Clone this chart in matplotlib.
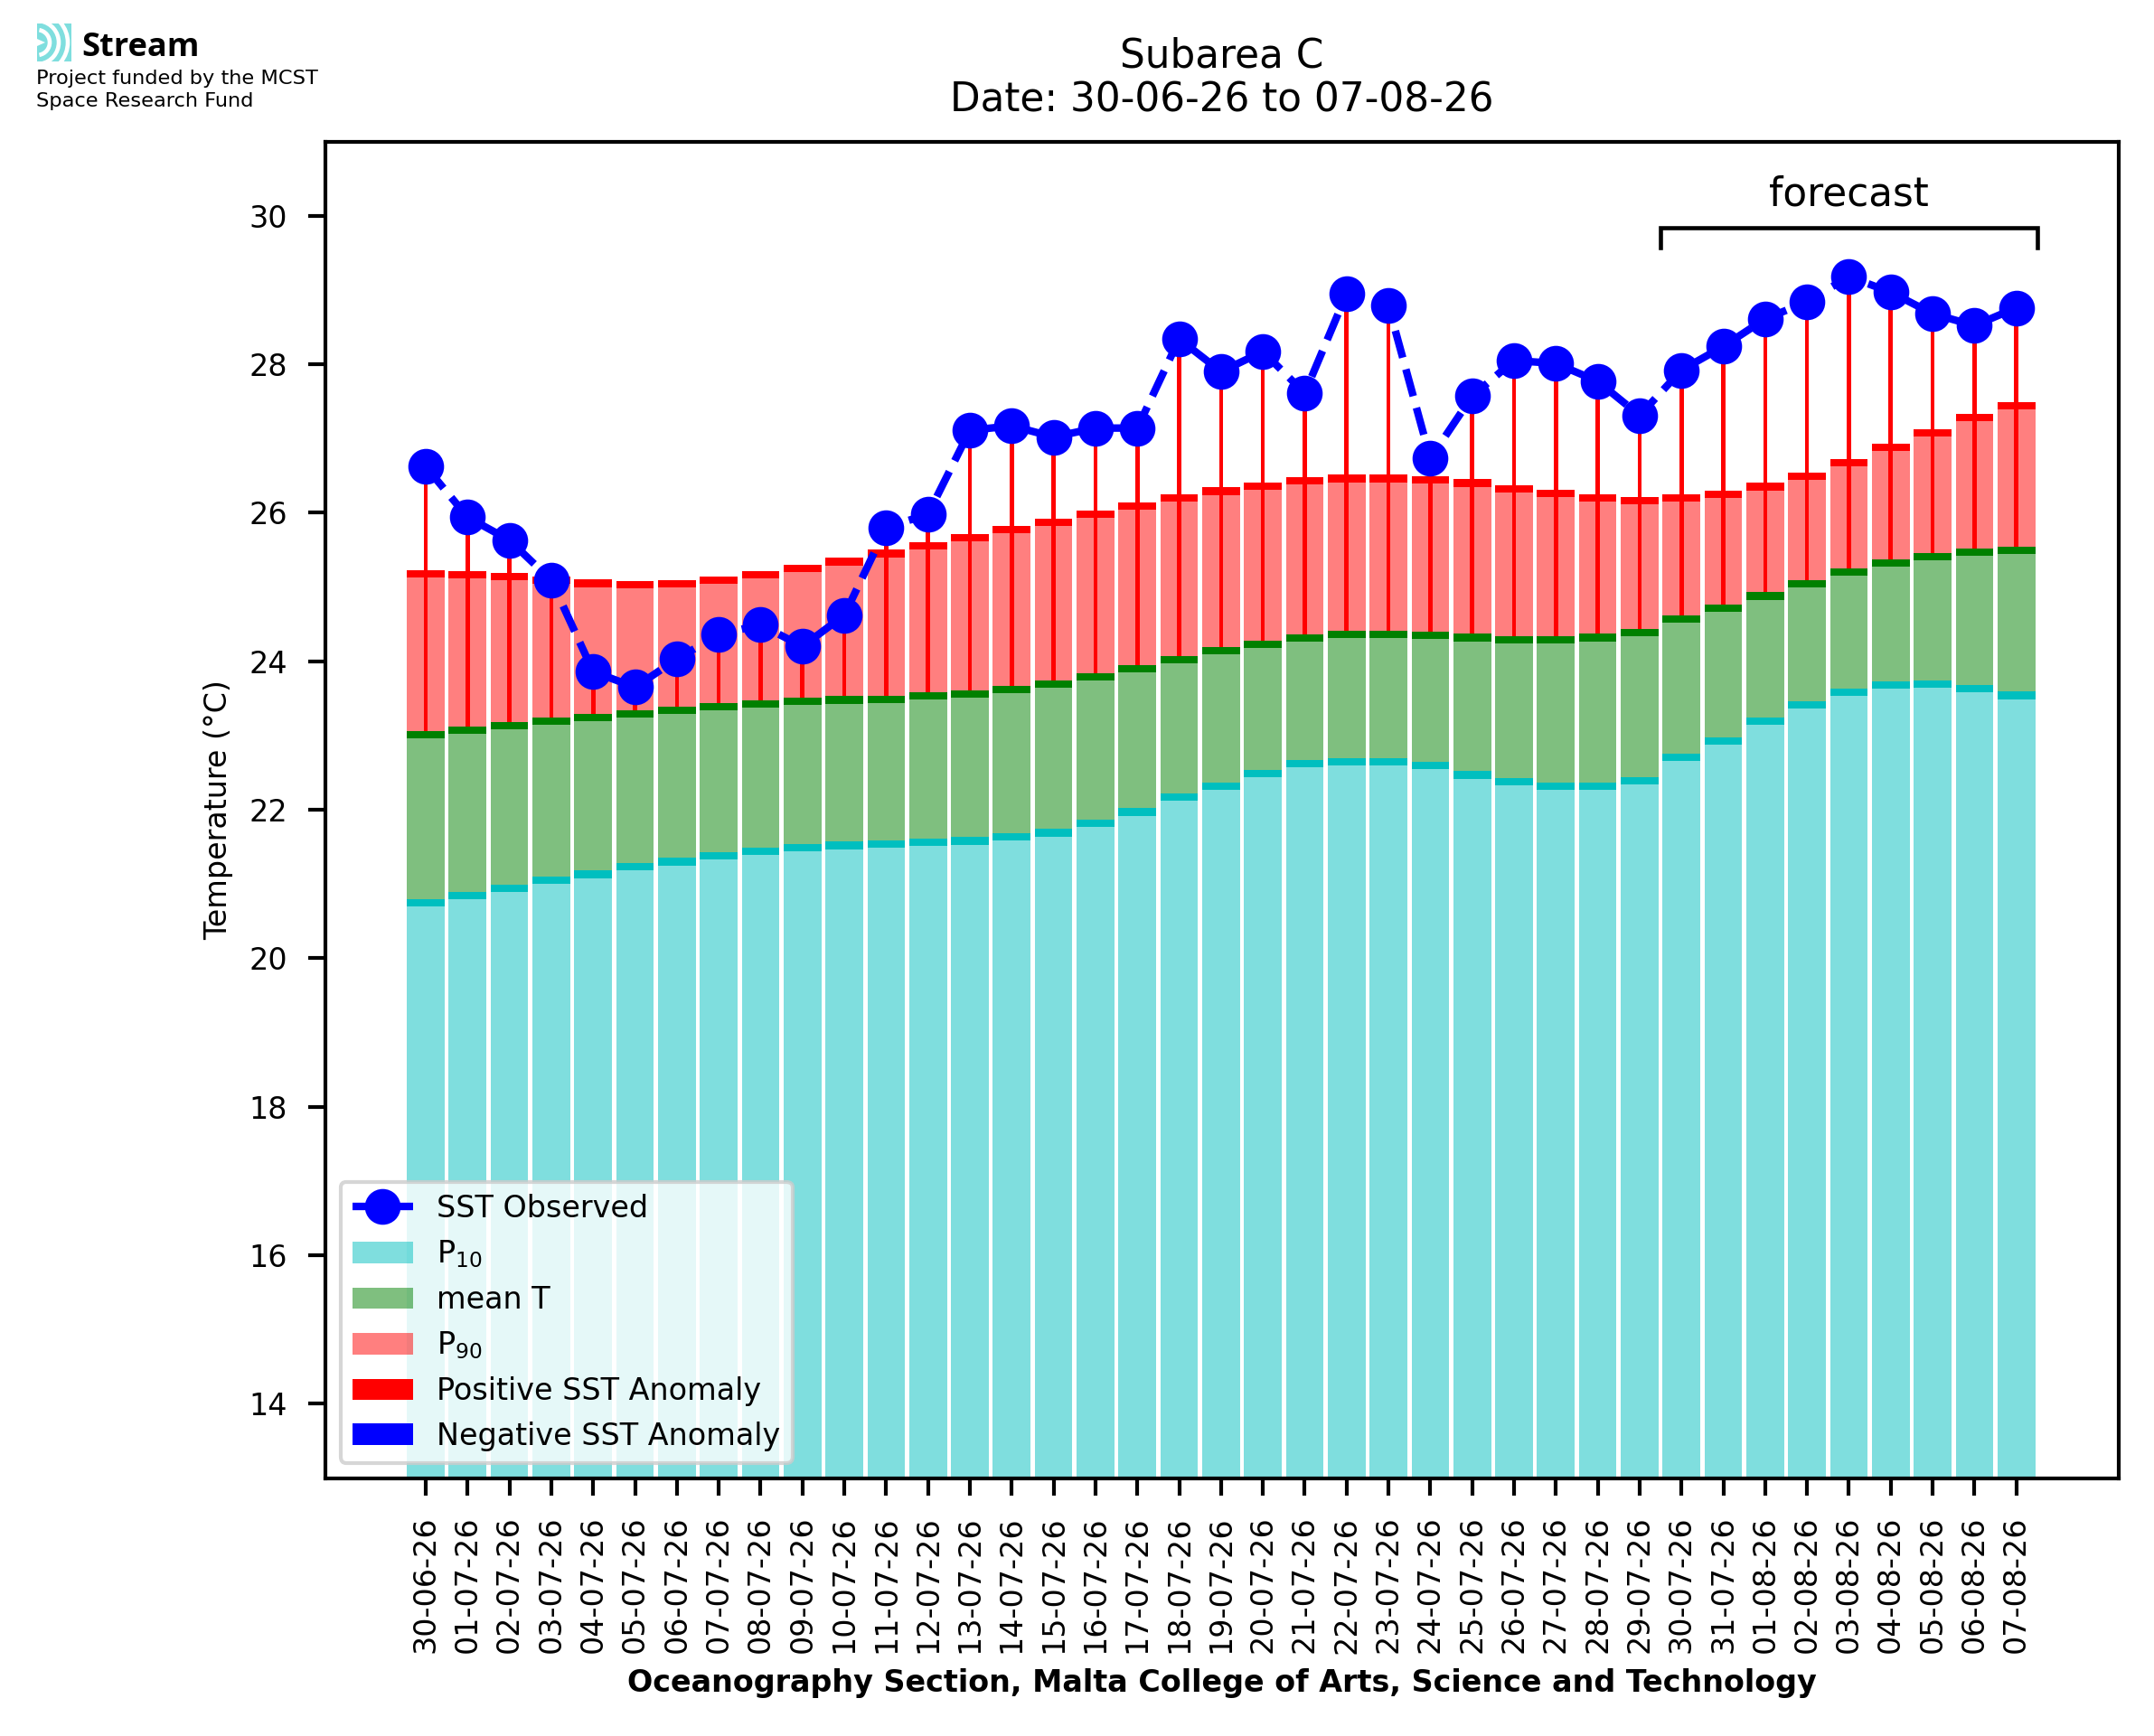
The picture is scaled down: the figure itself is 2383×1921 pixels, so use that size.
import matplotlib
matplotlib.use("Agg")
import matplotlib.pyplot as plt
from matplotlib.patches import Rectangle, Arc, Polygon
import numpy as np

# ---------------- data ----------------
dates = ["30-06-26", "01-07-26", "02-07-26", "03-07-26", "04-07-26", "05-07-26",
         "06-07-26", "07-07-26", "08-07-26", "09-07-26", "10-07-26", "11-07-26",
         "12-07-26", "13-07-26", "14-07-26", "15-07-26", "16-07-26", "17-07-26",
         "18-07-26", "19-07-26", "20-07-26", "21-07-26", "22-07-26", "23-07-26",
         "24-07-26", "25-07-26", "26-07-26", "27-07-26", "28-07-26", "29-07-26",
         "30-07-26", "31-07-26", "01-08-26", "02-08-26", "03-08-26", "04-08-26",
         "05-08-26", "06-08-26", "07-08-26"]

sst_observed = [26.62, 25.94, 25.63, 25.09, 23.86, 23.65, 24.03, 24.36, 24.49, 24.20,
                24.62, 25.80, 25.98, 27.11, 27.17, 27.02, 27.14, 27.14, 28.34, 27.90,
                28.17, 27.61, 28.95, 28.79, 26.73, 27.57, 28.05, 28.01, 27.77, 27.31,
                27.92, 28.24, 28.61, 28.84, 29.18, 28.97, 28.68, 28.52, 28.76]

p90 = [25.23, 25.21, 25.19, 25.14, 25.10, 25.08, 25.09, 25.14, 25.21, 25.30,
       25.39, 25.50, 25.60, 25.71, 25.82, 25.92, 26.03, 26.14, 26.25, 26.34,
       26.41, 26.48, 26.51, 26.51, 26.49, 26.45, 26.37, 26.31, 26.25, 26.21,
       26.25, 26.30, 26.40, 26.54, 26.72, 26.93, 27.13, 27.33, 27.49]

mean_t = [23.06, 23.12, 23.18, 23.24, 23.29, 23.34, 23.39, 23.44, 23.47, 23.51,
          23.53, 23.54, 23.58, 23.61, 23.67, 23.74, 23.84, 23.95, 24.07, 24.19,
          24.28, 24.36, 24.41, 24.41, 24.40, 24.37, 24.34, 24.34, 24.37, 24.44,
          24.62, 24.76, 24.93, 25.09, 25.25, 25.37, 25.46, 25.52, 25.54]

p10 = [20.80, 20.89, 20.99, 21.10, 21.18, 21.28, 21.35, 21.43, 21.49, 21.54,
       21.57, 21.59, 21.61, 21.63, 21.69, 21.74, 21.87, 22.02, 22.22, 22.37,
       22.54, 22.67, 22.70, 22.70, 22.65, 22.52, 22.43, 22.37, 22.37, 22.44,
       22.76, 22.98, 23.24, 23.46, 23.63, 23.73, 23.74, 23.68, 23.59]

forecast_start = "30-07-26"

# ---------------- figure ----------------
W, H = 2383, 1921
DPI = 300
fig = plt.figure(figsize=(W / DPI, H / DPI), dpi=DPI)
ax = fig.add_axes([360 / W, 1 - 1635.6 / H, (2344 - 360) / W, (1635.6 - 156.5) / H])

x = np.arange(len(dates))
sst = np.array(sst_observed)
p10a = np.array(p10)
meana = np.array(mean_t)
p90a = np.array(p90)

bw = 0.9
band = 0.1

# percentile / mean bars
b_p10 = ax.bar(x, p10a, width=bw, color='c', alpha=0.5, label=r'P$_{10}$', linewidth=0)
ax.bar(x, band, bottom=p10a - band, width=bw, color='c', linewidth=0)
b_mean = ax.bar(x, meana - p10a, bottom=p10a, width=bw, color='g', alpha=0.5,
                label='mean T', linewidth=0)
ax.bar(x, band, bottom=meana - band, width=bw, color='g', linewidth=0)
b_p90 = ax.bar(x, p90a - meana, bottom=meana, width=bw, color='r', alpha=0.5,
               label=r'P$_{90}$', linewidth=0)
ax.bar(x, band, bottom=p90a - band, width=bw, color='r', linewidth=0)

# anomalies
anom = sst - meana
pos = np.where(anom >= 0, anom, 0.0)
neg = np.where(anom < 0, anom, 0.0)
b_pos = ax.bar(x, pos, bottom=meana, width=0.1, color='red', linewidth=0,
               label='Positive SST Anomaly')
b_neg = ax.bar(x, neg, bottom=meana, width=0.1, color='blue', linewidth=0,
               label='Negative SST Anomaly')

# observed line
l_obs, = ax.plot(x, sst, color='blue', linestyle='--', linewidth=2, marker='o',
                 markersize=8.5, label='SST Observed', zorder=5)

ax.set_ylim(13, 31)
ax.set_xticks(x)
ax.set_xticklabels(dates, rotation=90, fontsize=8)
ax.tick_params(axis='both', which='major', labelsize=8, length=4.6, width=1.0, pad=5.5)
for sp in ax.spines.values():
    sp.set_linewidth(1.0)

ax.set_ylabel('Temperature (°C)', fontsize=8)
ax.set_xlabel('Oceanography Section, Malta College of Arts, Science and Technology',
              fontsize=8, fontweight='bold')
ax.set_title('Subarea C\nDate: 30-06-26 to 07-08-26', fontsize=10.5, pad=7.8)

# forecast bracket
fi = dates.index(forecast_start)
bx0 = fi - 0.5
bx1 = len(dates) - 1 + 0.5
ax.plot([bx0, bx0, bx1, bx1], [29.57, 29.84, 29.84, 29.57], color='black',
        linewidth=1.1, solid_joinstyle='miter', zorder=6)
ax.text((bx0 + bx1) / 2, 30.14, 'forecast', ha='center', va='baseline', fontsize=10.5)

ax.legend(handles=[l_obs, b_p10, b_mean, b_p90, b_pos, b_neg], loc='lower left',
          fontsize=8)

# ---------------- logo ----------------
logo_col = '#7fdede'
lax = fig.add_axes([41 / W, 1 - 68 / H, 40 / W, 42 / H])
lax.set_xlim(0, 40)
lax.set_ylim(0, 42)
lax.axis('off')
lax.add_patch(Rectangle((0, 0), 40, 42, color=logo_col, linewidth=0))
for r in (14, 24, 34):
    lax.add_patch(Arc((0, 21), 2 * r, 2 * r, theta1=-80, theta2=80,
                      color='white', linewidth=1.1))
lax.add_patch(Polygon([[0, 17], [9, 21], [0, 25]], closed=True, color='white',
                      linewidth=0))
lax.add_patch(Rectangle((38, 0), 2, 42, color='white', linewidth=0))

fig.text(90 / W, 1 - 62 / H, 'Stream', fontsize=8.7, fontweight='bold',
         family=['Open Sans', 'DejaVu Sans'], ha='left', va='baseline')
fig.text(40 / W, 1 - 92.7 / H, 'Project funded by the MCST', fontsize=5.4,
         ha='left', va='baseline')
fig.text(40 / W, 1 - 118.3 / H, 'Space Research Fund', fontsize=5.4,
         ha='left', va='baseline')

fig.savefig('out.png', dpi=DPI)
